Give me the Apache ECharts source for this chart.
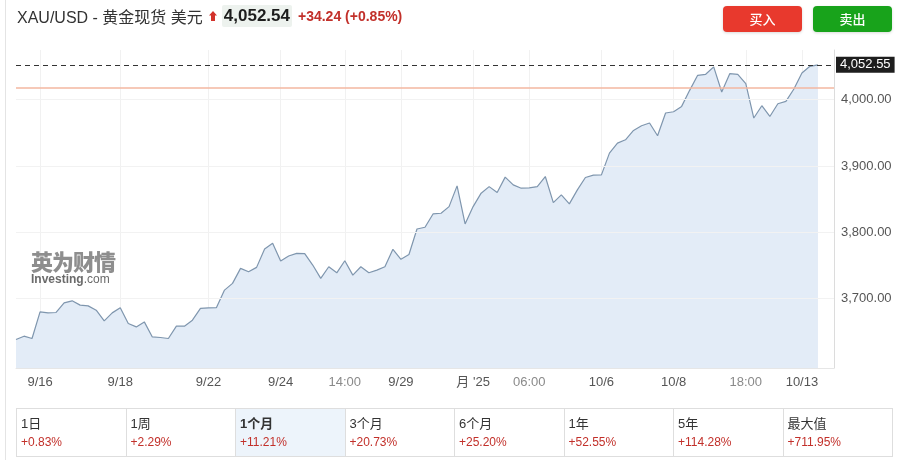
<!DOCTYPE html>
<html><head><meta charset="utf-8">
<script src="https://cdn.jsdelivr.net/npm/echarts@6/dist/echarts.min.js"></script>
<style>
html,body{margin:0;padding:0;background:#fff;width:899px;height:460px;overflow:hidden;font-family:"Liberation Sans","Noto Sans CJK SC",sans-serif;}
#chart{position:absolute;left:0;top:0;width:899px;height:460px;}
.vline{position:absolute;left:5px;top:0;width:1px;height:460px;background:#e4e4e4;}
#hdr{position:absolute;left:17px;top:4px;height:24px;display:flex;align-items:center;white-space:nowrap;}
#hdr .t{font-size:16px;color:#333;font-family:"Liberation Sans","Noto Sans CJK SC",sans-serif;}
#hdr .arr{margin-left:6px;margin-right:5px;display:inline-block;width:8px;height:10px;}
#hdr .p{font-size:17px;font-weight:bold;color:#1d1d1d;background:#edf2ee;padding:1px 2px;border-radius:2px;}
#hdr .c{font-size:14px;font-weight:bold;color:#c2302a;margin-left:6px;}
.btn{position:absolute;top:6px;width:79px;height:26px;border-radius:4px;color:#fff;font-size:13px;line-height:26px;text-align:center;font-family:"Noto Sans CJK SC",sans-serif;font-weight:500;box-shadow:0 1px 3px rgba(0,0,0,0.15);}
#buy{left:723px;background:#e8392d;}
#sell{left:813px;background:#18a31b;}
#wm{position:absolute;left:31px;top:248px;color:#8e8e8e;}
#wm .cn{font-size:22px;font-weight:900;font-family:"Noto Sans CJK SC",sans-serif;letter-spacing:-1px;line-height:25px;}
#wm .en{font-size:12px;color:#6a6a6a;line-height:12px;}
#tbl{position:absolute;left:16px;top:408px;width:877px;height:49px;display:flex;border:1px solid #dedede;box-sizing:border-box;}
#tbl .cell{flex:1;border-left:1px solid #dedede;padding-left:4px;box-sizing:border-box;}
#tbl .cell:first-child{border-left:none;}
#tbl .cell.on{background:#edf4fb;}
#tbl .l{font-size:13px;color:#333;margin-top:7px;line-height:16px;font-family:"Liberation Sans","Noto Sans CJK SC",sans-serif;}
#tbl .on .l{font-weight:bold;}
#tbl .v{font-size:12px;color:#c2302a;line-height:16px;margin-top:2px;}
</style></head>
<body>
<div id="chart"></div>
<div class="vline"></div>
<div id="hdr"><span class="t">XAU/USD - 黄金现货 美元</span><svg class="arr" viewBox="0 0 8 10"><polygon points="4,0 8,4.5 6,4.5 6,10 2,10 2,4.5 0,4.5" fill="#d3322b"/></svg><span class="p">4,052.54</span><span class="c">+34.24 (+0.85%)</span></div>
<div class="btn" id="buy">买入</div>
<div class="btn" id="sell">卖出</div>
<div id="wm"><div class="cn">英为财情</div><div class="en"><b>Investing</b>.com</div></div>
<div id="tbl"></div>
<script>
// ---- data ----
const prices = [
 3638.0,3643.0,3639.5,3679.7,3678.2,3678.8,3693.3,3696.4,3689.9,3688.8,
 3682.3,3666.1,3678.2,3685.8,3662.2,3657.0,3664.6,3641.9,3641.0,3639.5,
 3658.1,3658.1,3667.2,3684.9,3685.8,3686.2,3712.6,3722.7,3745.4,3740.2,
 3746.9,3774.6,3783.2,3756.4,3764.0,3768.1,3767.6,3750.4,3730.3,3747.8,
 3738.7,3756.9,3735.2,3747.8,3738.7,3742.8,3747.8,3774.1,3759.0,3766.3,
 3804.8,3807.4,3827.5,3828.6,3838.6,3869.9,3812.4,3838.6,3858.9,3868.8,
 3859.8,3883.1,3871.4,3866.4,3866.8,3868.8,3884.0,3844.6,3856.3,3842.7,
 3863.8,3882.5,3886.1,3886.5,3919.4,3934.5,3939.5,3953.6,3960.7,3964.8,
 3945.5,3979.9,3981.8,3989.9,4014.1,4036.8,4038.3,4049.5,4011.6,4039.3,
 4038.3,4024.2,3972.3,3990.9,3974.7,3993.9,3997.4,4016.2,4040.4,4050.4,
 4052.55
];
const categoryCount = 103;
const tickIndex = [3,13,24,33,41,48,57,64,73,82,91,98];
const tickLabels = ['9/16','9/18','9/22','9/24','14:00','9/29','月 \'25','06:00','10/6','10/8','18:00','10/13'];
const yTickValues = [3700,3800,3900,4000];
const currentPrice = 4052.55;
const prevClose = 4018.30;
const periodNames = ['1日','1周','1个月','3个月','6个月','1年','5年','最大值'];
const periodChanges = ['+0.83%','+2.29%','+11.21%','+20.73%','+25.20%','+52.55%','+114.28%','+711.95%'];
const activePeriod = 2;

// ---- table ----
const tbl = document.getElementById('tbl');
periodNames.forEach((n,i)=>{
  const d=document.createElement('div');
  d.className='cell'+(i===activePeriod?' on':'');
  d.innerHTML='<div class="l">'+n+'</div><div class="v">'+periodChanges[i]+'</div>';
  tbl.appendChild(d);
});

// ---- chart ----
const categories = Array.from({length:categoryCount},(_,i)=>{const k=tickIndex.indexOf(i);return k>=0?tickLabels[k]:'';});
const fmt = v => v.toLocaleString('en-US',{minimumFractionDigits:2,maximumFractionDigits:2});
const isTick = i => tickIndex.indexOf(i) >= 0;
const chart = echarts.init(document.getElementById('chart'));
const gridLines = yTickValues.map(v=>({yAxis:v,lineStyle:{color:'#f2f2f2',type:'solid',width:1}}));
chart.setOption({
  animation:false,
  textStyle:{fontFamily:'"Liberation Sans","Noto Sans CJK SC",sans-serif'},
  grid:{left:16,right:65,top:50,bottom:92},
  xAxis:{
    type:'category',data:categories,boundaryGap:false,
    axisLine:{show:true,lineStyle:{color:'#e6e6e6'}},
    axisTick:{show:false},
    axisLabel:{interval:(i)=>isTick(i),margin:8,fontSize:13,
      formatter:(v)=> v.indexOf(':')>=0 ? '{t|'+v+'}' : '{d|'+v+'}',
      rich:{d:{color:'#555',fontSize:13},t:{color:'#8a8a8a',fontSize:13}}},
    splitLine:{show:true,interval:(i)=>isTick(i),lineStyle:{color:'#f1f1f1'}}
  },
  yAxis:{
    type:'value',position:'right',min:3595,max:4075,interval:5,
    axisLine:{show:true,lineStyle:{color:'#dcdcdc'}},
    axisTick:{show:false},splitLine:{show:false},
    axisLabel:{margin:7,fontSize:13,color:'#555',
      formatter:(v)=> yTickValues.indexOf(Math.round(v))>=0 ? fmt(Math.round(v)) : ''}
  },
  series:[{
    type:'line',data:prices,symbol:'none',
    lineStyle:{color:'#7f96ae',width:1.2},
    areaStyle:{color:'#e3ecf7',opacity:1},
    markLine:{symbol:'none',label:{show:false},
      data:[
        {yAxis:prevClose,lineStyle:{color:'#f3b7a1',type:'solid',width:1.5}},
        ...gridLines,
        {yAxis:currentPrice,lineStyle:{color:'#333',type:[5,4],width:1},
          label:{show:true,position:'end',distance:2,formatter:()=>fmt(currentPrice),
            backgroundColor:'#1e1e1e',color:'#fff',fontSize:13,padding:[2,4,1,4]}}
      ]}
  }]
});
</script>
</body></html>
